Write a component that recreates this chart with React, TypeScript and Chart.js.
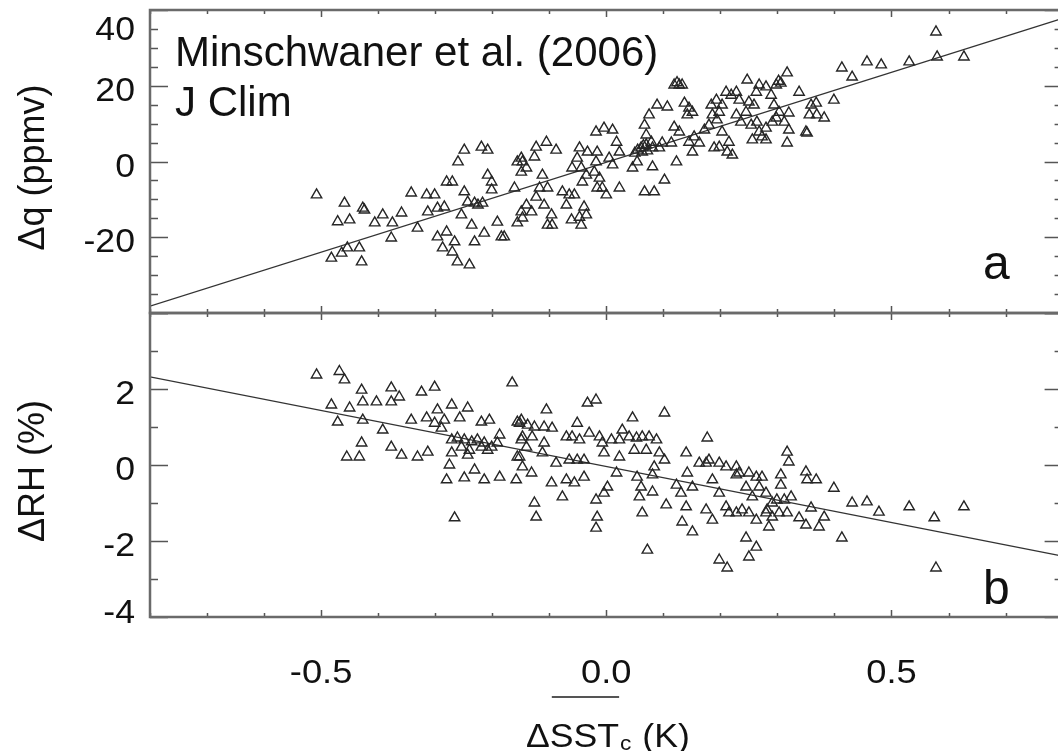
import React, { useEffect, useRef } from "react";
import { Chart, registerables } from "chart.js";

Chart.register(...registerables);

// ---------------- data ----------------
const X_MIN = -0.8;
const X_MAX = 0.8;
const Q_MIN = -40;
const Q_MAX = 40;
const RH_MIN = -4;
const RH_MAX = 4;

const xTickLabels = [-0.5, 0.0, 0.5];
const qTickLabels = [40, 20, 0, -20];
const rhTickLabels = [2, 0, -2, -4];

// regression lines (endpoints at the x-range edges)
const fitX = [-0.8, 0.8];
const fitQ = [-38.2, 37.8];
const fitRH = [2.32, -2.4];

// panel a: [ΔSST_c (K), Δq (ppmv)]
const dqPoints: [number, number][] = [
  [-0.508, -8.8], [-0.459, -11], [-0.427, -12.3], [-0.424, -12.8], [-0.471, -15.9], [-0.45, -15.4],
  [-0.406, -16.2], [-0.392, -14.1], [-0.375, -16.2], [-0.359, -13.6], [-0.377, -20.2], [-0.331, -17.6],
  [-0.342, -8.3], [-0.315, -8.8], [-0.301, -8.8], [-0.28, -5.4], [-0.27, -5.4], [-0.313, -13.3],
  [-0.296, -12.3], [-0.284, -12], [-0.26, -0.1], [-0.249, 3.0], [-0.219, 3.8], [-0.208, 3.0],
  [-0.249, -8.0], [-0.243, -10.7], [-0.231, -11], [-0.217, -11], [-0.225, -11.5], [-0.296, -19.9],
  [-0.28, -18.6], [-0.266, -21.2], [-0.287, -22.8], [-0.27, -23.9], [-0.261, -26.5], [-0.24, -27.3],
  [-0.254, -14.1], [-0.236, -16.8], [-0.231, -21.2], [-0.214, -18.9], [-0.191, -16], [-0.184, -19.9],
  [-0.179, -19.9], [-0.208, -3.6], [-0.201, -5.4], [-0.201, -7.5], [-0.161, -7], [-0.156, -16.2],
  [-0.149, -13.3], [-0.156, -0.1], [-0.149, 0.9], [-0.482, -25.5], [-0.464, -24.2], [-0.454, -22.8],
  [-0.433, -22.8], [-0.429, -26.5],
  [-0.147, -0.1], [-0.14, -1.7], [-0.149, -2.8], [-0.123, 3.8], [-0.105, 5.1], [-0.088, 3.0],
  [-0.126, 1.2], [-0.14, -11.5], [-0.131, -13.3], [-0.147, -14.9], [-0.112, -3.6], [-0.117, -7],
  [-0.103, -7], [-0.123, -9.4], [-0.109, -11.5], [-0.096, -14.1], [-0.095, -16.8], [-0.103, -16.8],
  [-0.077, -8], [-0.065, -8.8], [-0.056, -8.8], [-0.07, -11.5], [-0.047, 3.6], [-0.033, 2.5],
  [-0.051, 0.9], [-0.06, -1.7], [-0.044, -1.7], [-0.035, -3.6], [-0.042, -5.4], [-0.039, -12],
  [-0.047, -14.7], [-0.035, -14.1], [-0.061, -15.4], [-0.044, -16.8], [-0.018, 7.8], [-0.004, 8.8],
  [0.011, 8.3], [-0.016, 2.5], [-0.018, -0.1], [-0.021, -2.8], [-0.012, -4.4], [-0.007, -7],
  [0.0, -8.8], [-0.016, -7], [0.005, 0.9], [0.018, 5.1], [0.023, 2.5], [0.011, -0.9], [0.023, -7],
  [0.046, -1.7], [0.054, -0.1], [0.063, 2.5], [0.07, 4.4], [0.079, 5.1], [0.07, 7], [0.067, 9.6],
  [0.075, 12.3], [0.089, 14.9], [0.107, 14.4], [0.061, 3.6], [0.081, 3.6], [0.093, 3.6],
  [0.055, 3.0], [0.065, 4.2], [0.072, 2.8], [0.05, 2.2],
  [0.081, -1.4], [0.067, -8], [0.084, -8], [0.102, -4.9], [0.123, -0.1], [0.098, 4.9], [0.114, 4.9],
  [0.128, 20.2], [0.119, 20.2], [0.133, 20.2], [0.124, 20.8], [0.137, 15.4], [0.145, 14.1],
  [0.142, 12.3], [0.151, 13], [0.154, 6.5], [0.163, 4.9], [0.145, 5.1], [0.151, 2.5], [0.119, 9.1],
  [0.128, 7.8], [0.172, 8.3], [0.18, 9.6], [0.186, 12.3], [0.194, 11], [0.198, 13], [0.184, 14.9],
  [0.193, 16.2], [0.203, 14.9], [0.189, 3.6], [0.198, 3.8], [0.212, 2.5], [0.221, 1.7], [0.215, 5.1],
  [0.203, 7.8], [0.228, 12.3], [0.236, 10.4], [0.245, 13], [0.254, 9.6], [0.264, 10.4], [0.268, 7.8],
  [0.28, 8.8], [0.291, 10.4], [0.21, 18.3], [0.219, 17.5], [0.228, 18.3], [0.247, 21.5], [0.263, 18.3],
  [0.268, 20.2], [0.28, 19.7], [0.289, 17.5], [0.298, 20.2], [0.233, 16.2], [0.25, 15.7], [0.259, 14.9],
  [0.256, 5.7], [0.28, 5.7], [0.273, 6.5],
  [0.317, 23.4], [0.306, 20.7], [0.302, 21.2], [0.338, 18.3], [0.294, 14.9], [0.303, 13], [0.32, 12.8],
  [0.312, 10.4], [0.298, 11.5], [0.359, 14.9], [0.368, 15.4], [0.356, 12.3], [0.369, 12.3], [0.382, 11.5],
  [0.32, 8.3], [0.317, 4.9], [0.35, 7.8], [0.352, 7.5], [0.399, 16.2], [0.413, 24.7], [0.431, 22.3],
  [0.457, 26.3], [0.482, 25.5], [0.531, 26.3], [0.578, 34.2], [0.58, 27.6], [0.627, 27.6],
];

// panel b: [ΔSST_c (K), ΔRH (%)]
const drhPoints: [number, number][] = [
  [-0.508, 2.37], [-0.468, 2.46], [-0.459, 2.24], [-0.429, 1.97], [-0.427, 1.66], [-0.403, 1.66],
  [-0.377, 2.03], [-0.363, 1.79], [-0.377, 1.66], [-0.324, 1.92], [-0.301, 2.05], [-0.482, 1.58],
  [-0.45, 1.5], [-0.471, 1.13], [-0.427, 1.18], [-0.392, 0.92], [-0.429, 0.58], [-0.377, 0.47],
  [-0.359, 0.26], [-0.455, 0.21], [-0.433, 0.21], [-0.331, 0.21], [-0.313, 0.34], [-0.342, 1.18],
  [-0.315, 1.24], [-0.296, 1.45], [-0.284, 1.18], [-0.271, 1.58], [-0.243, 1.5], [-0.257, 1.24],
  [-0.301, 1.1], [-0.289, 0.97], [-0.219, 1.13], [-0.205, 1.18], [-0.187, 0.79], [-0.156, 1.13],
  [-0.271, 0.66], [-0.261, 0.71], [-0.249, 0.66], [-0.236, 0.61], [-0.226, 0.66], [-0.214, 0.58],
  [-0.201, 0.47], [-0.191, 0.58], [-0.254, 0.47], [-0.24, 0.39], [-0.219, 0.47], [-0.208, 0.39],
  [-0.271, 0.32], [-0.243, 0.26], [-0.275, 0.0], [-0.28, -0.39], [-0.249, -0.34], [-0.231, -0.13],
  [-0.214, -0.39], [-0.187, -0.32], [-0.158, -0.39], [-0.165, 2.16], [-0.266, -1.39], [-0.152, 1.1],
  [-0.149, 0.66], [-0.156, 0.21],
  [-0.149, 1.18], [-0.138, 1.05], [-0.126, 1.0], [-0.147, 0.74], [-0.13, 0.74], [-0.14, 0.47],
  [-0.152, 0.21], [-0.147, -0.05], [-0.131, -0.21], [-0.105, 1.45], [-0.109, 1.0], [-0.095, 0.97],
  [-0.109, 0.58], [-0.112, 0.32], [-0.096, -0.47], [-0.126, -1.0], [-0.123, -1.37], [-0.077, -0.84],
  [-0.088, 0.05], [-0.07, 0.74], [-0.06, 0.74], [-0.051, 1.1], [-0.047, 0.66], [-0.03, 0.84],
  [-0.033, 1.63], [-0.018, 1.71], [-0.065, 0.13], [-0.051, 0.13], [-0.039, 0.13], [-0.056, -0.47],
  [-0.039, -0.32], [-0.07, -0.39], [-0.018, -0.92], [-0.004, -0.74], [-0.016, -1.37], [-0.018, -1.66],
  [0.002, -0.58], [-0.012, 0.74], [-0.007, 0.58], [-0.004, 0.32], [0.009, 0.66], [0.018, -0.21],
  [0.023, 0.21], [0.028, 0.92], [0.046, 1.24], [0.023, 0.66], [0.04, 0.74], [0.053, 0.71],
  [0.063, 0.74], [0.075, 0.74], [0.088, 0.66], [0.049, 0.39], [0.07, 0.39], [0.093, 0.32],
  [0.102, 0.13], [0.054, -0.32], [0.061, -0.58], [0.058, -0.84], [0.063, -1.26], [0.081, -0.26],
  [0.081, -0.71], [0.084, -0.05], [0.102, 1.37], [0.072, -2.24], [0.105, -1.05], [0.123, -0.53],
  [0.14, 0.32], [0.142, -0.21], [0.131, -0.74], [0.14, -1.1], [0.151, -0.58], [0.133, -1.5],
  [0.151, -1.76], [0.163, 0.05], [0.175, 0.05], [0.18, 0.13], [0.198, 0.05], [0.21, -0.05],
  [0.177, 0.71], [0.186, -0.39], [0.198, -0.74], [0.175, -1.18], [0.186, -1.45], [0.21, -1.1],
  [0.228, -0.26], [0.228, -0.05], [0.215, -1.26], [0.228, -1.26], [0.238, -1.18], [0.25, -1.26],
  [0.263, -1.45], [0.28, -1.26], [0.285, -1.63], [0.233, -0.21], [0.25, -0.21], [0.263, -0.32],
  [0.273, -0.32], [0.245, -0.58], [0.268, -0.58], [0.256, -0.84], [0.28, -0.74], [0.291, -1.0],
  [0.245, -1.92], [0.263, -2.16], [0.25, -2.42], [0.198, -2.5], [0.212, -2.71], [0.291, -1.37],
  [0.282, -1.18],
  [0.317, 0.34], [0.32, 0.08], [0.306, -0.26], [0.306, -0.53], [0.299, -0.92], [0.312, -0.92],
  [0.324, -0.84], [0.303, -1.26], [0.317, -1.26], [0.35, -0.18], [0.352, -0.39], [0.368, -0.39],
  [0.399, -0.61], [0.359, -1.13], [0.382, -1.37], [0.338, -1.39], [0.35, -1.58], [0.373, -1.63],
  [0.413, -1.92], [0.431, -1.0], [0.457, -0.97], [0.478, -1.24], [0.531, -1.1], [0.575, -1.39],
  [0.627, -1.1], [0.578, -2.71],
];

// ---------------- styling ----------------
const FONT = '"Liberation Sans", Arial, Helvetica, sans-serif';
const TEXT = "#111111";
const FRAME = "#6a6a6a";
const TICK = "#555555";
const MARK = "#262626";

const CANVAS_W = 1070;
const CANVAS_H = 751;
const AREA_LEFT = 150;
const AREA_RIGHT = 1064;
const TOP_A = 10;
const SPLIT = 313;
const BOTTOM_B = 617;

function drawText(
  ctx: CanvasRenderingContext2D,
  text: string,
  x: number,
  y: number,
  size: number,
  align: CanvasTextAlign,
  sx = 1
) {
  ctx.save();
  ctx.translate(x, y);
  ctx.scale(sx, 1);
  ctx.font = `${size}px ${FONT}`;
  ctx.textAlign = align;
  ctx.textBaseline = "alphabetic";
  ctx.fillStyle = TEXT;
  ctx.fillText(text, 0, 0);
  ctx.restore();
}

type PanelCfg = {
  id: string;
  yMinorStep: number;
  yMajorStep: number;
  yMin: number;
  yMax: number;
  yLabels: number[];
  yTitle: string;
  panelLabel: string;
  panelLabelBaseline: number;
  showX: boolean;
  annotation?: string[];
};

function framePlugin(cfg: PanelCfg) {
  return {
    id: "frame_" + cfg.id,
    afterDatasetsDraw(chart: any) {
      const ctx: CanvasRenderingContext2D = chart.ctx;
      const a = chart.chartArea;
      const xs = chart.scales.x;
      const ys = chart.scales.y;
      ctx.save();

      // tick marks on all four sides (inward)
      ctx.strokeStyle = TICK;
      ctx.lineWidth = 1.5;
      ctx.beginPath();
      for (let i = -8; i <= 8; i++) {
        const v = i / 10;
        const px = Math.round(xs.getPixelForValue(v)) + 0.5;
        const len = i % 5 === 0 ? 7 : 4;
        ctx.moveTo(px, a.bottom);
        ctx.lineTo(px, a.bottom - len);
        ctx.moveTo(px, a.top);
        ctx.lineTo(px, a.top + len);
      }
      const nMin = Math.round(cfg.yMin / cfg.yMinorStep);
      const nMax = Math.round(cfg.yMax / cfg.yMinorStep);
      for (let i = nMin; i <= nMax; i++) {
        const v = i * cfg.yMinorStep;
        const py = Math.round(ys.getPixelForValue(v)) + 0.5;
        const major = Math.abs(v % cfg.yMajorStep) < 1e-9;
        const len = major ? 18 : 8;
        ctx.moveTo(a.left, py);
        ctx.lineTo(a.left + len, py);
        ctx.moveTo(a.right, py);
        ctx.lineTo(a.right - len, py);
      }
      ctx.stroke();

      // frame
      ctx.strokeStyle = FRAME;
      ctx.lineWidth = 2.5;
      ctx.strokeRect(a.left, a.top, a.right - a.left, a.bottom - a.top);

      // y tick labels
      for (const v of cfg.yLabels) {
        let py = ys.getPixelForValue(v);
        py = Math.max(py, a.top + 15);
        py = Math.min(py, a.bottom - 9);
        drawText(ctx, String(v), 135, py + 3 + 12, 33, "right", 1.08);
      }

      // y title (rotated)
      ctx.save();
      const cy = (a.top + a.bottom) / 2 + 6;
      ctx.translate(34, cy);
      ctx.rotate(-Math.PI / 2);
      ctx.font = `36px ${FONT}`;
      ctx.textAlign = "center";
      ctx.textBaseline = "middle";
      ctx.fillStyle = TEXT;
      ctx.fillText(cfg.yTitle, 0, 0);
      ctx.restore();

      // panel letter
      drawText(ctx, cfg.panelLabel, 983, cfg.panelLabelBaseline, 48, "left");

      // annotation
      if (cfg.annotation) {
        cfg.annotation.forEach((line, k) => {
          drawText(ctx, line, 175, 66 + k * 50, 42, "left");
        });
      }

      if (cfg.showX) {
        // x tick labels
        for (const v of xTickLabels) {
          const px = xs.getPixelForValue(v);
          drawText(ctx, v.toFixed(1), px, 683, 33, "center", 1.1);
        }
        // x title: ΔSST with overbar, subscript c, (K)
        const sx = 1.08;
        const x0 = 526;
        const base = 747;
        ctx.font = `33px ${FONT}`;
        const wDelta = ctx.measureText("Δ").width * sx;
        const wMain = ctx.measureText("ΔSST").width * sx;
        drawText(ctx, "ΔSST", x0, base, 33, "left", sx);
        ctx.font = `21px ${FONT}`;
        const wSub = ctx.measureText("c").width * sx;
        drawText(ctx, "c", x0 + wMain + 1, 750, 21, "left", sx);
        drawText(ctx, " (K)", x0 + wMain + wSub + 2, base, 33, "left", sx);
        ctx.strokeStyle = "#555";
        ctx.lineWidth = 2;
        ctx.beginPath();
        ctx.moveTo(x0 + wDelta + 2, 697);
        ctx.lineTo(x0 + wMain, 697);
        ctx.stroke();
      }
      ctx.restore();
    },
  };
}

function makeConfig(
  pts: [number, number][],
  fitY: number[],
  yMin: number,
  yMax: number,
  padding: { top: number; bottom: number },
  plugin: any
): any {
  return {
    type: "scatter",
    data: {
      datasets: [
        {
          data: pts.map(([x, y]) => ({ x, y })),
          pointStyle: "triangle",
          pointRadius: 6,
          pointHoverRadius: 6,
          borderColor: MARK,
          borderWidth: 1.4,
          backgroundColor: "rgba(0,0,0,0)",
          showLine: false,
        },
        {
          data: fitX.map((x, i) => ({ x, y: fitY[i] })),
          showLine: true,
          borderColor: "#333333",
          borderWidth: 1.2,
          pointRadius: 0,
          fill: false,
        },
      ],
    },
    options: {
      animation: false,
      responsive: false,
      devicePixelRatio: 1,
      events: [],
      layout: {
        padding: {
          left: AREA_LEFT,
          right: CANVAS_W - AREA_RIGHT,
          top: padding.top,
          bottom: padding.bottom,
        },
      },
      plugins: {
        legend: { display: false },
        tooltip: { enabled: false },
        title: { display: false },
      },
      scales: {
        x: { type: "linear", min: X_MIN, max: X_MAX, display: false },
        y: { type: "linear", min: yMin, max: yMax, display: false },
      },
    },
    plugins: [plugin],
  };
}

export default function App() {
  const topRef = useRef<HTMLCanvasElement>(null);
  const botRef = useRef<HTMLCanvasElement>(null);

  useEffect(() => {
    const top = new Chart(
      topRef.current as HTMLCanvasElement,
      makeConfig(
        dqPoints,
        fitQ,
        Q_MIN,
        Q_MAX,
        { top: TOP_A, bottom: CANVAS_H - SPLIT },
        framePlugin({
          id: "a",
          yMinorStep: 5,
          yMajorStep: 20,
          yMin: Q_MIN,
          yMax: Q_MAX,
          yLabels: qTickLabels,
          yTitle: "Δq (ppmv)",
          panelLabel: "a",
          panelLabelBaseline: 279,
          showX: false,
          annotation: ["Minschwaner et al. (2006)", "J Clim"],
        })
      )
    );
    const bottom = new Chart(
      botRef.current as HTMLCanvasElement,
      makeConfig(
        drhPoints,
        fitRH,
        RH_MIN,
        RH_MAX,
        { top: SPLIT, bottom: CANVAS_H - BOTTOM_B },
        framePlugin({
          id: "b",
          yMinorStep: 1,
          yMajorStep: 2,
          yMin: RH_MIN,
          yMax: RH_MAX,
          yLabels: rhTickLabels,
          yTitle: "ΔRH (%)",
          panelLabel: "b",
          panelLabelBaseline: 604,
          showX: true,
        })
      )
    );
    return () => {
      top.destroy();
      bottom.destroy();
    };
  }, []);

  return (
    <div
      style={{
        position: "fixed",
        left: 0,
        top: 0,
        width: 1058,
        height: 751,
        overflow: "hidden",
        background: "#ffffff",
      }}
    >
      <canvas
        ref={topRef}
        width={CANVAS_W}
        height={CANVAS_H}
        style={{ position: "absolute", left: 0, top: 0 }}
      />
      <canvas
        ref={botRef}
        width={CANVAS_W}
        height={CANVAS_H}
        style={{ position: "absolute", left: 0, top: 0 }}
      />
    </div>
  );
}
